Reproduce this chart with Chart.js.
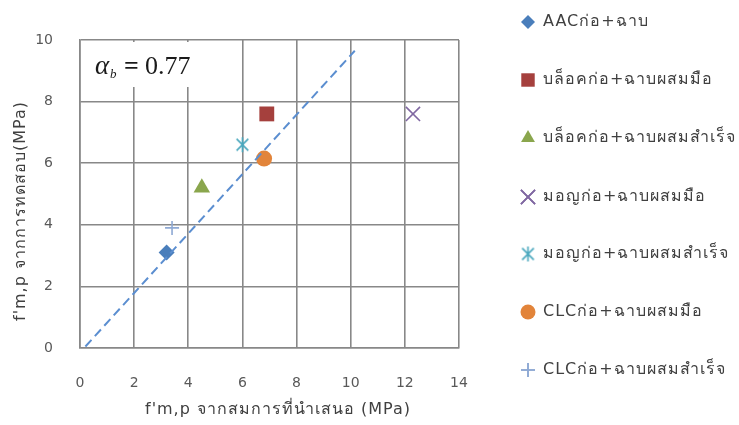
<!DOCTYPE html>
<html>
<head>
<meta charset="utf-8">
<script src="https://cdn.jsdelivr.net/npm/chart.js@4/dist/chart.umd.min.js"></script>
<style>
  html, body { margin: 0; padding: 0; background: #fff; }
  #wrap { position: relative; width: 739px; height: 425px; }
</style>
</head>
<body>
<div id="wrap"><canvas id="c" width="739" height="425"></canvas></div>
<script>
// Series: [f'm,p from the proposed equation, f'm,p from tests] in MPa
const seriesNames = [
  'AACก่อ+ฉาบ',
  'บล็อคก่อ+ฉาบผสมมือ',
  'บล็อคก่อ+ฉาบผสมสำเร็จ',
  'มอญก่อ+ฉาบผสมมือ',
  'มอญก่อ+ฉาบผสมสำเร็จ',
  'CLCก่อ+ฉาบผสมมือ',
  'CLCก่อ+ฉาบผสมสำเร็จ'
];
const predicted = [3.2, 6.9, 4.5, 12.3, 6.0, 6.8, 3.4];
const tested    = [3.1, 7.6, 5.2, 7.6, 6.6, 6.15, 3.9];
const seriesColors = ['#4A7EBB', '#A5403D', '#8AA64D', '#8068A2', '#4AA8BE', '#E2843A', '#8EA9D4'];
const seriesStyles = ['rectRot', 'rect', 'triangle', 'crossRot', 'asterisk', 'circle', 'cross'];
const seriesRadius = [8, 10.5, 9.5, 10, 7.5, 8, 7];
const legendRadius = [7, 9.5, 8, 10, 7.5, 7.5, 7];

// Reference trend line endpoints
const lineX = [0.2, 10.15];
const lineY = [0.05, 9.65];

const xTicks = [0, 2, 4, 6, 8, 10, 12, 14];
const yTicks = [0, 2, 4, 6, 8, 10];

const xTitle = "f'm,p จากสมการที่นำเสนอ (MPa)";
const yTitle = "f'm,p จากการทดสอบ(MPa)";
const alphaValue = 0.77;

const FONT = "'DejaVu Sans', 'Noto Sans', sans-serif";
const GRID = '#888888';

// six-armed asterisk marker (vertical bar plus an x)
function asteriskMarker(color, r, lw) {
  const s = Math.ceil(r * 2 + lw * 2);
  const cv = document.createElement('canvas');
  cv.width = s; cv.height = s;
  const g = cv.getContext('2d');
  const c = s / 2;
  g.strokeStyle = color;
  g.lineWidth = lw;
  g.beginPath();
  g.moveTo(c, c - r); g.lineTo(c, c + r);
  const d = r * 0.78;
  g.moveTo(c - d, c - d); g.lineTo(c + d, c + d);
  g.moveTo(c - d, c + d); g.lineTo(c + d, c - d);
  g.stroke();
  return cv;
}

const datasets = seriesNames.map((name, i) => {
  const style = seriesStyles[i];
  const filled = !['crossRot', 'asterisk', 'cross'].includes(style);
  return {
    label: name,
    data: [{ x: predicted[i], y: tested[i] }],
    pointStyle: style === 'asterisk' ? asteriskMarker(seriesColors[i], seriesRadius[i], 1.6) : style,
    pointRadius: seriesRadius[i],
    pointHoverRadius: seriesRadius[i],
    backgroundColor: filled ? seriesColors[i] : 'transparent',
    borderColor: seriesColors[i],
    borderWidth: filled ? 0 : 1.6,
    showLine: false
  };
});
datasets.unshift({
  label: 'trend',
  data: lineX.map((x, i) => ({ x: x, y: lineY[i] })),
  showLine: true,
  borderColor: '#5B8ED0',
  borderWidth: 2,
  borderDash: [9, 5],
  pointRadius: 0,
  fill: false
});

// Annotation box, axis titles and the legend drawn on the canvas
const decorations = {
  id: 'decorations',
  afterDatasetsDraw(chart) {
    const ctx = chart.ctx;
    const area = chart.chartArea;
    ctx.save();
    // white box behind the coefficient
    ctx.fillStyle = '#ffffff';
    ctx.fillRect(area.left + 1.5, 42, 118, 45);
    ctx.fillStyle = '#1a1a1a';
    ctx.textBaseline = 'alphabetic';
    ctx.textAlign = 'left';
    ctx.font = "italic 27px 'Liberation Serif', serif";
    ctx.fillText('α', 95, 74);
    ctx.font = "italic 13px 'Liberation Serif', serif";
    ctx.fillText('b', 110, 78);
    ctx.font = "bold 26px 'Liberation Serif', serif";
    ctx.fillText('=', 124, 74);
    ctx.font = "26px 'Liberation Serif', serif";
    ctx.fillText(alphaValue.toFixed(2), 145, 74);

    // axis titles
    ctx.fillStyle = '#404040';
    ctx.font = '16px ' + FONT;
    ctx.letterSpacing = '1px';
    ctx.textAlign = 'left';
    ctx.textBaseline = 'middle';
    ctx.fillText(xTitle, 145, 410);
    ctx.save();
    ctx.translate(21, 321);
    ctx.rotate(-Math.PI / 2);
    ctx.fillText(yTitle, 0, 0);
    ctx.restore();

    // legend
    const legendY = [22, 80, 138, 197, 254, 312, 370];
    chart.data.datasets.forEach((ds, k) => {
      if (k === 0) return;
      const i = k - 1;
      const y = legendY[i];
      if (seriesStyles[i] === 'asterisk') {
        const m = ds.pointStyle;
        ctx.drawImage(m, 528 - m.width / 2, y - m.height / 2);
      } else {
        ctx.fillStyle = ds.backgroundColor === 'transparent' ? 'rgba(0,0,0,0)' : ds.backgroundColor;
        ctx.strokeStyle = ds.borderColor;
        ctx.lineWidth = ds.borderWidth;
        Chart.helpers.drawPoint(ctx, {
          pointStyle: ds.pointStyle,
          radius: legendRadius[i],
          rotation: 0,
          borderWidth: ds.borderWidth
        }, 528, y);
        if (ds.borderWidth) ctx.stroke();
      }
      ctx.fillStyle = '#404040';
      ctx.font = '16px ' + FONT;
      ctx.letterSpacing = '1px';
      ctx.textAlign = 'left';
      ctx.textBaseline = 'middle';
      ctx.fillText(ds.label, 543, y);
    });
    ctx.restore();
  }
};

new Chart(document.getElementById('c'), {
  type: 'scatter',
  data: { datasets: datasets },
  options: {
    responsive: false,
    animation: false,
    layout: { padding: { left: 0, right: 280, top: 40, bottom: 0 } },
    plugins: { legend: { display: false }, tooltip: { enabled: false } },
    scales: {
      x: {
        type: 'linear',
        min: xTicks[0],
        max: xTicks[xTicks.length - 1],
        afterBuildTicks: (s) => { s.ticks = xTicks.map(v => ({ value: v })); },
        afterFit: (s) => { s.height = 77; },
        grid: { color: GRID, lineWidth: 1.6, drawTicks: false },
        border: { color: GRID, width: 1.6 },
        ticks: { color: '#595959', font: { family: FONT, size: 14 }, padding: 27 }
      },
      y: {
        type: 'linear',
        min: yTicks[0],
        max: yTicks[yTicks.length - 1],
        afterBuildTicks: (s) => { s.ticks = yTicks.map(v => ({ value: v })); },
        afterFit: (s) => { s.width = 80; },
        grid: { color: GRID, lineWidth: 1.6, drawTicks: false },
        border: { color: GRID, width: 1.6 },
        ticks: { color: '#595959', font: { family: FONT, size: 14 }, padding: 27 }
      }
    }
  },
  plugins: [decorations]
});
</script>
</body>
</html>
